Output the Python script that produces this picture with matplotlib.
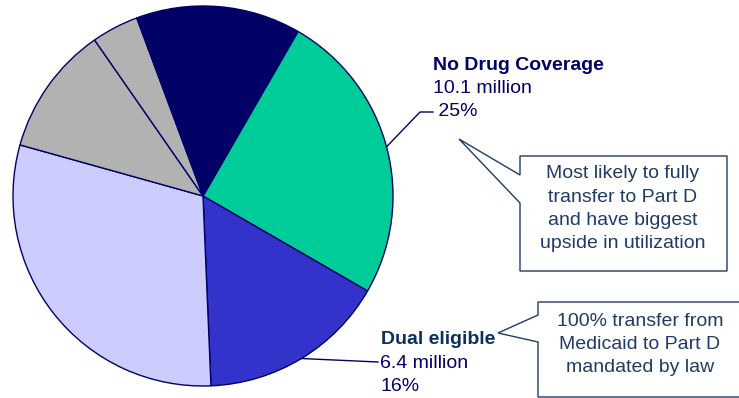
import numpy as np
import matplotlib
matplotlib.use('Agg')
import matplotlib.pyplot as plt
from matplotlib.patches import Polygon

# share of Medicare beneficiaries by drug coverage (%), clockwise from the green slice
segments = ['No Drug Coverage', 'Dual eligible', 'Employer', 'Medigap', 'Other', 'Medicare+Choice']
shares = [25, 16, 30, 11, 4, 14]
colors = ['#00CC99', '#3333CC', '#CCCCFF', '#B2B2B2', '#B2B2B2', '#000066']

nodrug_lines = ['No Drug Coverage', '10.1 million', ' 25%']
dual_lines = ['Dual eligible', '6.4 million', '16%']
callout1 = ['Most likely to fully', 'transfer to Part D', 'and have biggest', 'upside in utilization']
callout2 = ['100% transfer from', 'Medicaid to Part D', 'mandated by law']

W, H = 739, 398
plt.rcParams['font.family'] = ['Liberation Sans', 'DejaVu Sans']
fig = plt.figure(figsize=(W / 100, H / 100), dpi=100)
ax = fig.add_axes([0, 0, 1, 1])

cx, cy, r = 203, H - 196, 190
wedges, _ = ax.pie(shares, colors=colors, startangle=60, counterclock=False,
                   center=(cx, cy), radius=r, frame=True,
                   wedgeprops=dict(edgecolor='#000066', linewidth=1))
ax.set_xlim(0, W)
ax.set_ylim(0, H)
ax.set_aspect('auto')
ax.axis('off')


def edge_point(w):
    a = np.deg2rad((w.theta1 + w.theta2) / 2)
    return cx + r * np.cos(a), cy + r * np.sin(a)


navy = '#000066'
box_col = '#1F3B66'
fs = 14
step = 23.3

# No drug coverage label
x0, y0 = edge_point(wedges[0])
ax.plot([x0, 420, 433], [y0, H - 112, H - 112], color=navy, lw=1)
for i, s in enumerate(nodrug_lines):
    ax.text(433, H - 65 - i * step, s, color=navy, fontsize=fs,
            fontweight='bold' if i == 0 else 'normal', va='center')

# Dual eligible label
x1, y1 = edge_point(wedges[1])
ax.plot([x1, 378], [y1, H - 362], color=navy, lw=1)
for i, s in enumerate(dual_lines):
    ax.text(381 if i == 0 else 380, H - 340 - i * step, s,
            color='#0B2F5E' if i == 0 else navy, fontsize=fs,
            fontweight='bold' if i == 0 else 'normal', va='center')

# callout boxes
p1 = [(520, 156), (727, 156), (727, 271), (520, 271), (520, 203), (459, 139), (520, 175)]
p2 = [(538, 302), (745, 302), (745, 397), (538, 397), (538, 342), (498, 333), (538, 315)]
for pts in (p1, p2):
    ax.add_patch(Polygon([(x, H - y) for x, y in pts], closed=True, facecolor='white',
                         edgecolor=box_col, lw=1, clip_on=False))

for i, s in enumerate(callout1):
    ax.text(623, H - 174 - i * step, s, color=box_col, fontsize=fs, ha='center', va='center')
for i, s in enumerate(callout2):
    ax.text(640, H - 321 - i * step, s, color=box_col, fontsize=fs, ha='center', va='center')

fig.savefig('out.png', dpi=100, facecolor='white')
